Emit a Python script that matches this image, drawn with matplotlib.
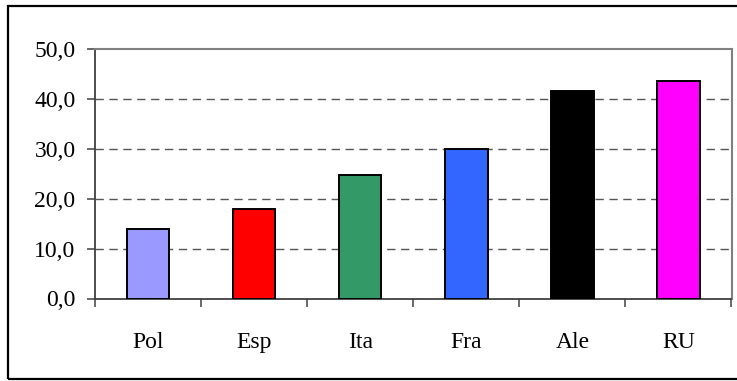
import matplotlib.pyplot as plt
import numpy as np
from matplotlib.patches import Rectangle

# data
countries = ['Pol', 'Esp', 'Ita', 'Fra', 'Ale', 'RU']
values = [14.0, 18.0, 24.7, 30.0, 41.6, 43.5]
bar_colors = ['#9999FF', '#FF0000', '#339966', '#3366FF', '#000000', '#FF00FF']
yticks = [0, 10, 20, 30, 40, 50]

plt.rcParams['font.family'] = 'Liberation Serif'

fig = plt.figure(figsize=(7.37, 3.81), dpi=100)
ax = fig.add_axes([95 / 737, 82.5 / 381, 636.5 / 737, 249.5 / 381])

x = np.arange(len(countries))
ax.bar(x, values, width=0.4, color=bar_colors, edgecolor='black', linewidth=1.4, zorder=3)

ax.set_xlim(-0.5, len(countries) - 0.5)
ax.set_ylim(0, 50)

# y axis
ax.set_yticks(yticks)
ax.set_yticklabels([f'{v:.1f}'.replace('.', ',') for v in yticks])
ax.tick_params(axis='y', direction='out', length=6, width=1.1, color='#404040',
               pad=8, labelsize=17)

# x axis: ticks between the categories, labels in the middle
ax.set_xticks(np.arange(-0.5, len(countries), 1.0))
ax.set_xticklabels([])
ax.set_xticks(x, minor=True)
ax.set_xticklabels(countries, minor=True)
ax.tick_params(axis='x', which='major', direction='out', length=5.5, width=1.1, color='#404040')
ax.tick_params(axis='x', which='minor', length=0, pad=24, labelsize=17)

# dashed grid
for v in yticks[1:-1]:
    ax.axhline(v, color='#555555', linestyle=(0, (6, 4)), linewidth=1.0, zorder=1)

ax.spines['left'].set_color('#404040')
ax.spines['bottom'].set_color('#404040')
ax.spines['left'].set_linewidth(1.3)
ax.spines['bottom'].set_linewidth(1.3)
ax.spines['top'].set_color('#808080')
ax.spines['right'].set_color('#808080')
ax.spines['top'].set_linewidth(1.5)
ax.spines['right'].set_linewidth(1.5)

# outer chart border
fig.patches.append(Rectangle((8 / 737, 2 / 381), 740 / 737, 373 / 381,
                             transform=fig.transFigure, fill=False,
                             edgecolor='black', linewidth=1.6))

fig.savefig('out.png', dpi=100)
